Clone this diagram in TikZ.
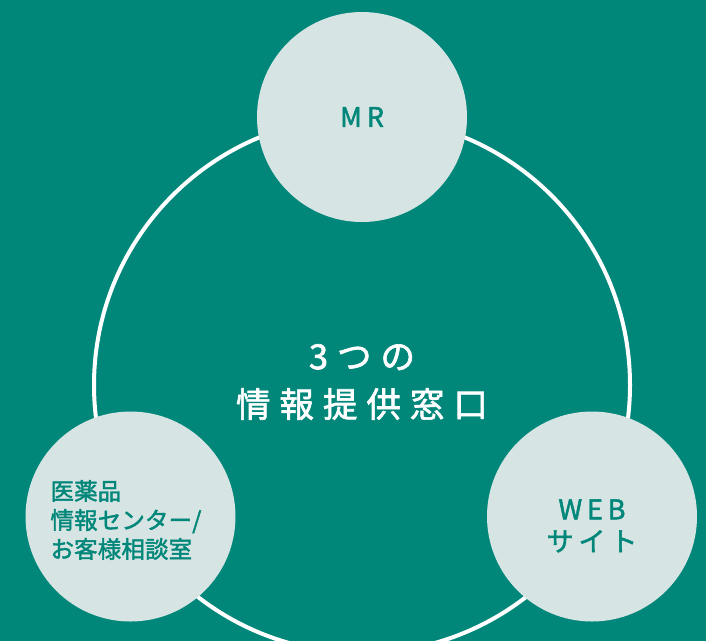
\documentclass[tikz,border=0pt]{standalone}
\usepackage{fontspec}
\newfontfamily\jp[FakeBold=1.8]{Noto Sans CJK JP}
\definecolor{teal0}{HTML}{00877A}
\definecolor{pale}{HTML}{D6E4E3}
\begin{document}
\begin{tikzpicture}[x=1pt,y=-1pt,
  hubc/.style={circle,draw=white,line width=4pt,minimum size=536pt,inner sep=0pt},
  satc/.style={circle,fill=pale,minimum size=210pt,inner sep=0pt},
  hubtext/.style={text=white,align=center,inner sep=0pt,
    font=\jp\fontsize{34.5}{48}\selectfont\addfontfeatures{LetterSpace=26}},
  sattext/.style={text=teal0,align=center,inner sep=0pt,
    font=\jp\fontsize{27}{32}\selectfont\addfontfeatures{LetterSpace=18}},
  lefttext/.style={text=teal0,align=left,inner sep=0pt,
    font=\jp\fontsize{23.5}{29}\selectfont\addfontfeatures{LetterSpace=0.5}}]
\fill[teal0] (0,0) rectangle (706,641);
\useasboundingbox (0,0) rectangle (706,641);
\clip (0,0) rectangle (706,641);
\node[hubc] (hub) at (362,385) {};
\node[satc] (mr) at (362,117) {};
\node[satc] (info) at (130.5,516.5) {};
\node[satc] (web) at (592,516.5) {};
\node[hubtext] (hubt) at (362,382) {3つの\\情報提供窓口};
\node[sattext] (mrt) at (mr) {MR};
\node[lefttext] (infot) at (126,520) {医薬品\\情報センター/\\お客様相談室};
\node[sattext] (webt) at (592,526) {WEB\\サイト};
\end{tikzpicture}
\end{document}
